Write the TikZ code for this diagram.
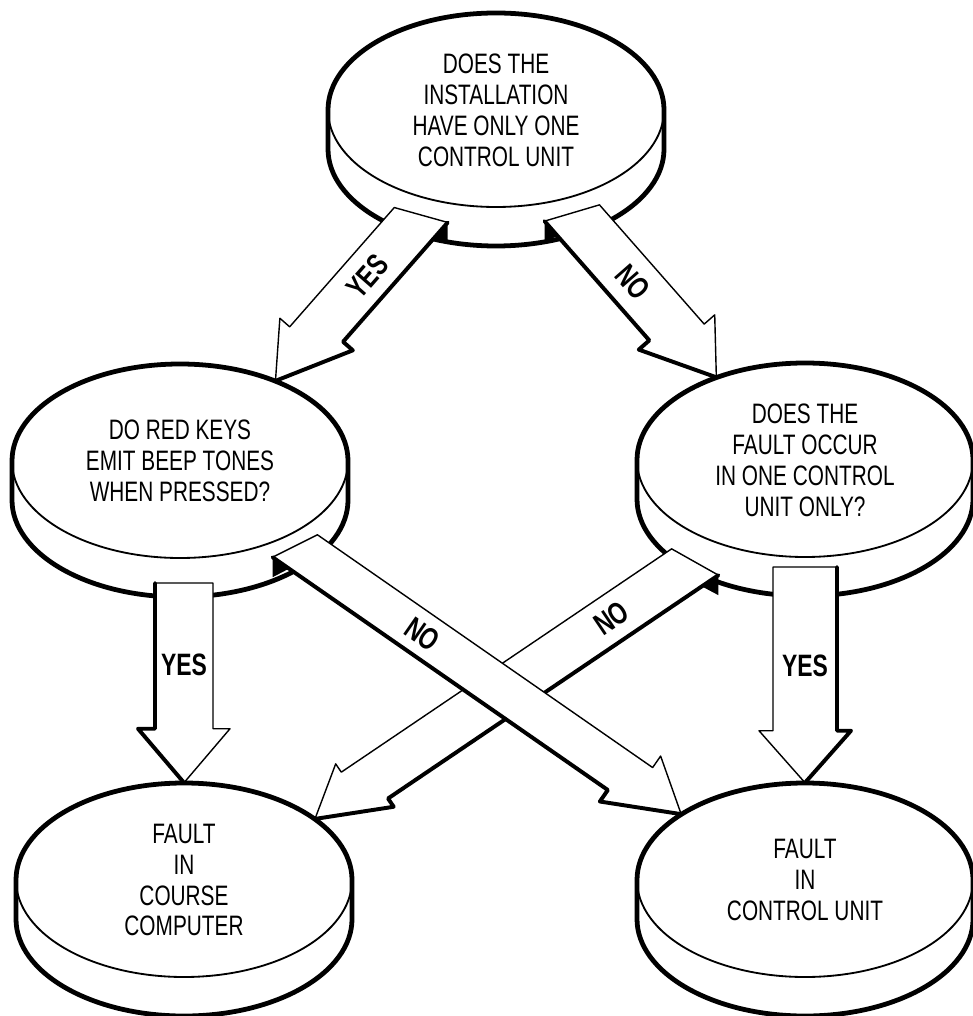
\documentclass[tikz,border=0pt]{standalone}
\usepackage{fontspec}
\setmainfont{Liberation Sans}[FakeStretch=0.74]
\usetikzlibrary{calc,shapes.geometric}
\tikzset{
  disktop/.style={ellipse,minimum width=84mm,minimum height=48.5mm,inner sep=0pt,align=center,
                  font=\fontsize{20}{22}\selectfont},
  rim/.style={line width=3.4pt,fill=white,line join=round},
  seam/.style={line width=1.3pt},
  % block arrows: thin outline, one heavy side that gives them their depth
  shaft/.style={line width=1.0pt,fill=white,line join=round},
  shade/.style={line width=2.8pt,line join=round,line cap=round},
  lab/.style={font=\bfseries\fontsize{22}{24}\selectfont,inner sep=0pt},
}

\begin{document}
\begin{tikzpicture}[x=0.25mm,y=-0.25mm]
  \useasboundingbox (0,0) rectangle (972,1016);
  % a disk seen from above: the top face carries the text, the rim below it is 9.75mm deep
  \newcommand{\disk}[3]{% #1 = name, #2 = centre, #3 = text on the top face
    \coordinate (#1-c) at (#2);
    \filldraw[rim] ($(#1-c)+(-168,0)$) arc[start angle=180,end angle=0,x radius=42mm,y radius=24.25mm]
      -- ++(0pt,-9.75mm) arc[start angle=0,end angle=-180,x radius=42mm,y radius=24.25mm] -- cycle;
    \draw[seam] ($(#1-c)+(-168,0)$) arc[start angle=180,end angle=360,x radius=42mm,y radius=24.25mm];
    \node[disktop] (#1) at (#1-c) {#3};
  }
  % a block arrow from a back end (on a rim) to a tip (on a top face); the heavy side lags behind
  \newcommand{\blockarrow}[7]{% #1 = back end, #2 = tip, #3 = half shaft, #4 = half head, #5 = head length,
                              % #6 = heavy side (90 or -90), #7 = lag of the heavy side
    \pgfmathsetmacro{\farside}{-(#6)}
    \pgfmathsetlengthmacro{\halflag}{#7/2}
    \pgfmathsetlengthmacro{\lagback}{#5+#7/2}
    \pgfmathsetlengthmacro{\lagfront}{#5-#7/2}
    \coordinate (c1) at ($(#1)!-\halflag!(#2)$);
    \coordinate (c2) at ($(#1)!\halflag!(#2)$);
    \coordinate (hb1) at ($(#2)!\lagback!(#1)$);
    \coordinate (hb2) at ($(#2)!\lagfront!(#1)$);
    \coordinate (s1) at ($(c1)!#3!#6:(#2)$);
    \coordinate (s2) at ($(c2)!#3!\farside:(#2)$);
    \coordinate (h1) at ($(hb1)!#3!\farside:(#1)$);
    \coordinate (h2) at ($(hb2)!#3!#6:(#1)$);
    \coordinate (b1) at ($(hb1)!#4!\farside:(#1)$);
    \coordinate (b2) at ($(hb2)!#4!#6:(#1)$);
    \filldraw[shaft] (s1) -- (h1) -- (b1) -- (#2) -- (b2) -- (h2) -- (s2) -- cycle;
    \draw[shade] (s1) -- (h1) -- (b1) -- (#2);
    \fill (s1) -- ($(s1)!5mm!(h1)$) -- ($(s1)+(0pt,-5mm)$) -- cycle;
  }

  \disk{install}{496,110}{DOES THE\\INSTALLATION\\HAVE ONLY ONE\\CONTROL UNIT}
  \disk{keys}{180,461}{DO RED KEYS\\EMIT BEEP TONES\\WHEN PRESSED?}
  \disk{occur}{805,460}{DOES THE\\FAULT OCCUR\\IN ONE CONTROL\\UNIT ONLY?}
  \disk{course}{184,880}{FAULT\\IN\\COURSE\\COMPUTER}
  \disk{unit}{805,880}{FAULT\\IN\\CONTROL UNIT}

  % back ends of the arrows, on the rims
  \coordinate (yes1) at ($(install-c)+(-75,105)$);
  \coordinate (no1)  at ($(install-c)+(76,103)$);
  \coordinate (yes2) at ($(keys-c)+(4,122)$);
  \coordinate (no2)  at ($(keys-c)+(115,85)$);
  \coordinate (yes3) at ($(occur-c)+(0,107)$);
  \coordinate (no3)  at ($(occur-c)+(-110,102)$);

  \blockarrow{yes1}{keys.40}{6.25mm}{9.5mm}{15.5mm}{90}{6mm}
  \path (yes1) -- (keys.40) node[lab,sloped,pos=0.37] {YES};
  \blockarrow{no1}{occur.137}{6.5mm}{10mm}{15mm}{-90}{6mm}
  \path (no1) -- (occur.137) node[lab,sloped,pos=0.42] {NO};
  \blockarrow{yes2}{course.north}{7.25mm}{11.5mm}{13.5mm}{-90}{0mm}
  \path (yes2) -- (course.north) node[lab,pos=0.41] {YES};
  \blockarrow{yes3}{unit.north}{8mm}{11.5mm}{13mm}{90}{0mm}
  \path (yes3) -- (unit.north) node[lab,pos=0.46] {YES};
  \blockarrow{no3}{course.25}{6mm}{8.5mm}{15mm}{90}{6mm}
  \path (no3) -- (course.25) node[lab,sloped,pos=0.22] {NO};
  \blockarrow{no2}{unit.152}{5.5mm}{9mm}{15.5mm}{-90}{6mm}
  \path (no2) -- (unit.152) node[lab,sloped,pos=0.33] {NO};
\end{tikzpicture}
\end{document}
